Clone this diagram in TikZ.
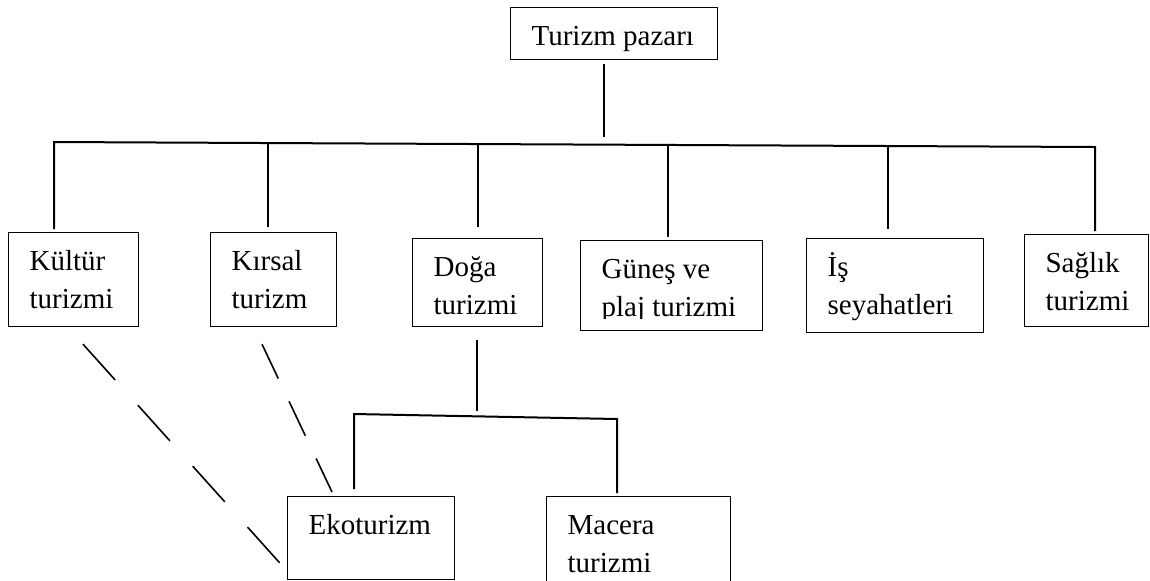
\documentclass[tikz,border=0pt]{standalone}
\usepackage{fontspec}
\setmainfont{Liberation Serif}
\usepackage{tikz}
\usetikzlibrary{positioning}
\tikzset{
  tbox/.style={draw, line width=0.6pt, anchor=north west,
    inner xsep=10.5pt, inner ysep=5.7pt, font=\fontsize{14.5}{19}\selectfont},
  link/.style={line width=1pt},
  crosslink/.style={line width=0.8pt}
}
\newcommand{\boxlines}[3]{\parbox[t][#2][t]{#1}{\strut#3}}

\begin{document}
\begin{tikzpicture}[x=0.5pt,y=-0.5pt]
  \useasboundingbox (0,0) rectangle (1150,580);
  % market and segments
  \node[tbox] (top) at (510,7) {\boxlines{82.5pt}{14.6pt}{Turizm pazarı}};
  \node[tbox] (kultur) at (8,232) {\boxlines{44pt}{35.6pt}{Kültür\\turizmi}};
  \node[tbox] (kirsal) at (210,232) {\boxlines{42pt}{35.6pt}{Kırsal\\turizm}};
  \node[tbox] (doga) at (412,238) {\boxlines{44pt}{32.6pt}{Doğa\\turizmi}};
  \node[tbox] (gunes) at (580,240) {\boxlines{70pt}{33.6pt}{Güneş ve\\plaj turizmi}};
  \node[tbox] (is) at (806,238) {\boxlines{67.5pt}{35.6pt}{İş\\seyahatleri}};
  \node[tbox] (saglik) at (1024,234) {\boxlines{41pt}{34.6pt}{Sağlık\\turizmi}};
  \node[tbox] (eko) at (287,496) {\boxlines{62.5pt}{30.1pt}{Ekoturizm}};
  \node[tbox] (macera) at (546,496) {\boxlines{71pt}{43.6pt}{Macera\\turizmi}};
  \fill[white] ([shift={(1.5,-12)}]gunes.south west) rectangle ([shift={(-1.5,-1.5)}]gunes.south east);

  % tree lines
  \coordinate (jtop) at (604,137);
  \draw[link, shorten <=2pt] (top.south -| jtop) -- (jtop);
  \coordinate (jkultur) at (54,142);
  \coordinate (jsaglik) at (1095,147);
  \draw[link, shorten <=1.5pt, shorten >=1.5pt] (jkultur |- kultur.north) -- (jkultur) -- (jsaglik) -- (jsaglik |- saglik.north);
  \foreach \bx/\x/\y/\gap in {kirsal/268/143/2.5, doga/478/144/5.5, gunes/668/145/1.5, is/888/146/4.5}{
    \coordinate (j\bx) at (\x,\y);
    \draw[link, shorten >=\gap pt] (j\bx) -- (j\bx |- \bx.north);
  }
  \coordinate (jdoga) at (477,411);
  \draw[link, shorten <=6.5pt] (doga.south -| jdoga) -- (jdoga);
  \coordinate (seko) at (354,414);
  \coordinate (smacera) at (617,419);
  \draw[link, shorten <=3.5pt, shorten >=1.5pt] (seko |- eko.north) -- (seko) -- (smacera) -- (smacera |- macera.north);

  % dashed links to ekoturizm
  \coordinate (dk1) at ([shift={(75,17)}]kultur.south west);
  \coordinate (dk2) at ([shift={(-7,-17)}]eko.south west);
  \draw[crosslink, dash pattern=on 24pt off 17pt] (dk1) -- (dk2);
  \coordinate (dr1) at ([shift={(52,17)}]kirsal.south west);
  \coordinate (dr2) at ([shift={(45,-4)}]eko.north west);
  \draw[crosslink, dash pattern=on 19pt off 12.6pt] (dr1) -- (dr2);
\end{tikzpicture}
\end{document}
